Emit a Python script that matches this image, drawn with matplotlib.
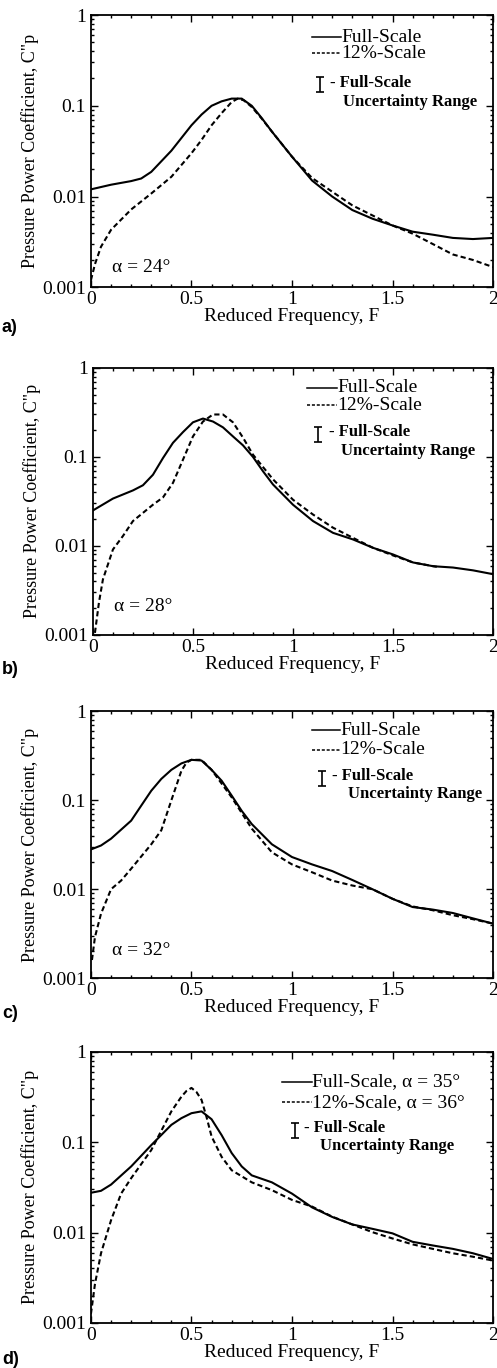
import matplotlib.pyplot as plt
from matplotlib.ticker import LogLocator, MultipleLocator, FixedLocator, FixedFormatter

plt.rcParams['font.family'] = ['Liberation Serif', 'DejaVu Serif']

# panel a, alpha = 24
fa_full = [0, 0.1, 0.2, 0.25, 0.3, 0.4, 0.5, 0.55, 0.6, 0.65, 0.7, 0.75, 0.8, 0.85, 0.9, 1.0, 1.1, 1.2, 1.3, 1.4,
           1.5, 1.6, 1.7, 1.8, 1.9, 2.0]
ca_full = [0.012, 0.0135, 0.0148, 0.0158, 0.0187, 0.032, 0.061, 0.08, 0.1, 0.112, 0.12, 0.12, 0.1, 0.073, 0.052,
           0.0275, 0.015, 0.010, 0.0071, 0.0057, 0.0048, 0.0041, 0.0038, 0.0035, 0.0034, 0.0035]
fa_12 = [0.0, 0.02, 0.05, 0.1, 0.2, 0.3, 0.4, 0.5, 0.55, 0.6, 0.65, 0.7, 0.73, 0.76, 0.8, 0.85, 0.9, 1.0, 1.1, 1.2,
         1.3, 1.4, 1.5, 1.6, 1.7, 1.8, 1.9, 2.0]
ca_12 = [0.0012, 0.0018, 0.0028, 0.0043, 0.0072, 0.0108, 0.0165, 0.03, 0.042, 0.061, 0.083, 0.11, 0.12, 0.115,
         0.097, 0.072, 0.052, 0.0275, 0.016, 0.0113, 0.008, 0.0062, 0.0048, 0.0039, 0.003, 0.0023, 0.002, 0.00167]

# panel b, alpha = 28
fb_full = [0, 0.1, 0.2, 0.25, 0.3, 0.35, 0.4, 0.45, 0.5, 0.55, 0.6, 0.65, 0.7, 0.75, 0.8, 0.85, 0.9, 1.0, 1.1,
           1.2, 1.3, 1.4, 1.5, 1.6, 1.7, 1.8, 1.9, 2.0]
cb_full = [0.025, 0.034, 0.042, 0.048, 0.063, 0.097, 0.144, 0.19, 0.245, 0.27, 0.25, 0.215, 0.17, 0.135, 0.1, 0.069,
           0.049, 0.029, 0.019, 0.014, 0.0118, 0.0095, 0.008, 0.0065, 0.0059, 0.0057, 0.0053, 0.0048]
fb_12 = [0.01, 0.03, 0.05, 0.1, 0.15, 0.2, 0.3, 0.35, 0.4, 0.45, 0.5, 0.55, 0.6, 0.65, 0.7, 0.75, 0.8, 0.9, 1.0,
         1.1, 1.2, 1.3, 1.4, 1.5, 1.6, 1.72]
cb_12 = [0.00105, 0.0023, 0.0042, 0.0091, 0.0129, 0.019, 0.029, 0.035, 0.051, 0.093, 0.17, 0.25, 0.30, 0.30, 0.245,
         0.165, 0.106, 0.056, 0.033, 0.0225, 0.016, 0.0123, 0.0095, 0.0078, 0.0065, 0.0058]

# panel c, alpha = 32
fc_full = [0, 0.05, 0.1, 0.2, 0.25, 0.3, 0.35, 0.4, 0.45, 0.5, 0.55, 0.6, 0.65, 0.7, 0.75, 0.8, 0.9, 1.0, 1.1, 1.2,
           1.3, 1.4, 1.5, 1.6, 1.7, 1.8, 1.9, 2.0]
cc_full = [0.028, 0.031, 0.037, 0.059, 0.087, 0.128, 0.174, 0.22, 0.26, 0.285, 0.28, 0.22, 0.166, 0.113, 0.076,
           0.054, 0.032, 0.023, 0.019, 0.016, 0.0127, 0.010, 0.0078, 0.0063, 0.0059, 0.0054, 0.0047, 0.0041]
fc_12 = [0.005, 0.02, 0.05, 0.1, 0.15, 0.2, 0.3, 0.35, 0.4, 0.45, 0.475, 0.5, 0.55, 0.6, 0.7, 0.8, 0.9, 1.0, 1.1,
         1.2, 1.3, 1.4, 1.5, 1.6, 1.7, 1.8, 1.9, 2.0]
cc_12 = [0.0016, 0.0029, 0.0053, 0.010, 0.0125, 0.017, 0.032, 0.046, 0.10, 0.215, 0.265, 0.285, 0.285, 0.22, 0.108,
         0.048, 0.026, 0.019, 0.0155, 0.0125, 0.011, 0.010, 0.0078, 0.0064, 0.0058, 0.0051, 0.0046, 0.0041]

# panel d, alpha = 35 / 36
fd_full = [0, 0.05, 0.1, 0.2, 0.3, 0.4, 0.45, 0.5, 0.55, 0.6, 0.65, 0.7, 0.75, 0.8, 0.9, 1.0, 1.1, 1.2, 1.3, 1.4,
           1.5, 1.6, 1.7, 1.8, 1.9, 2.0]
cd_full = [0.0276, 0.029, 0.034, 0.054, 0.093, 0.156, 0.185, 0.21, 0.22, 0.18, 0.12, 0.076, 0.054, 0.043, 0.036,
           0.027, 0.019, 0.0149, 0.0123, 0.011, 0.0098, 0.0079, 0.0072, 0.0066, 0.0059, 0.0051]
fd_12 = [0.0, 0.02, 0.05, 0.1, 0.15, 0.2, 0.3, 0.4, 0.45, 0.475, 0.5, 0.525, 0.55, 0.575, 0.6, 0.65, 0.7, 0.8, 0.9,
         1.0, 1.1, 1.2, 1.3, 1.4, 1.5, 1.6, 1.7, 1.8, 1.9, 2.0]
cd_12 = [0.00126, 0.0027, 0.0059, 0.0137, 0.027, 0.040, 0.082, 0.22, 0.32, 0.37, 0.40, 0.36, 0.295, 0.19, 0.116,
         0.069, 0.049, 0.036, 0.0295, 0.023, 0.0194, 0.015, 0.0123, 0.0101, 0.0086, 0.0074, 0.0066, 0.0059, 0.0054,
         0.0049]

panels = [
    (fa_full, ca_full, fa_12, ca_12, "a)", "\u03b1 = 24\u00b0", "Full-Scale", "12%-Scale"),
    (fb_full, cb_full, fb_12, cb_12, "b)", "\u03b1 = 28\u00b0", "Full-Scale", "12%-Scale"),
    (fc_full, cc_full, fc_12, cc_12, "c)", "\u03b1 = 32\u00b0", "Full-Scale", "12%-Scale"),
    (fd_full, cd_full, fd_12, cd_12, "d)", None, "Full-Scale, \u03b1 = 35\u00b0", "12%-Scale, \u03b1 = 36\u00b0"),
]

# axes boxes [left, bottom, width, height] in figure fractions
boxes = [[0.183, 0.790, 0.809, 0.199],
         [0.187, 0.536, 0.805, 0.195],
         [0.183, 0.285, 0.809, 0.195],
         [0.183, 0.033, 0.809, 0.198]]
alpha_y = [0.074, 0.105, 0.105, None]
label_y = [327, 670, 1013, 1360]
# legend placement: line x0, x1, y solid, y dashed, I-bar x, I-bar y, text x, text y, range x, range y
leg = [(0.55, 0.622, 0.919, 0.86, 0.57, 0.745, 0.595, 0.75, 0.627, 0.68),
       (0.535, 0.61, 0.925, 0.86, 0.563, 0.75, 0.59, 0.76, 0.62, 0.69),
       (0.55, 0.62, 0.93, 0.857, 0.575, 0.75, 0.60, 0.757, 0.64, 0.69),
       (0.475, 0.55, 0.89, 0.815, 0.507, 0.71, 0.53, 0.72, 0.57, 0.653)]

fig = plt.figure(figsize=(4.97, 13.68), dpi=100)
for i, (xf, yf, x12, y12, tag, alab, lab1, lab2) in enumerate(panels):
    ax = fig.add_axes(boxes[i])
    ax.plot(xf, yf, color='black', lw=1.5)
    ax.plot(x12, y12, color='black', lw=1.5, ls=(0, (2.5, 1.5)))
    ax.set_yscale('log')
    ax.set_xlim(0, 2)
    ax.set_ylim(0.001, 1)
    ax.xaxis.set_major_locator(FixedLocator([0, 0.5, 1, 1.5, 2]))
    ax.xaxis.set_major_formatter(FixedFormatter(['0', '0.5', '1', '1.5', '2']))
    ax.xaxis.set_minor_locator(MultipleLocator(0.1))
    ax.yaxis.set_major_locator(FixedLocator([0.001, 0.01, 0.1, 1]))
    ax.yaxis.set_major_formatter(FixedFormatter(['0.001', '0.01', '0.1', '1']))
    ax.yaxis.set_minor_locator(LogLocator(base=10, subs=range(2, 10)))
    ax.tick_params(which='both', direction='in', top=True, right=True, labelsize=14, width=1.0)
    ax.tick_params(which='major', length=5)
    ax.tick_params(which='minor', length=2.5)
    ax.tick_params(axis='x', pad=3)
    for s in ax.spines.values():
        s.set_linewidth(1.3)
    ax.set_xlabel('Reduced Frequency, F', fontsize=14, labelpad=0)
    ax.set_ylabel('Pressure Power Coefficient, C"p', fontsize=13, labelpad=2)
    if alab:
        ax.text(0.052, alpha_y[i], alab, transform=ax.transAxes, fontsize=14, va='center')
    lx0, lx1, ys, yd, ibx, iby, tx, ty, rx, ry = leg[i]
    ax.plot([lx0, lx1], [ys, ys], color='black', lw=1.1, transform=ax.transAxes)
    ax.plot([lx0, lx1], [yd, yd], color='black', lw=1.1, ls=(0, (2, 1.2)), transform=ax.transAxes)
    ax.text(lx1, ys, lab1, transform=ax.transAxes, fontsize=14, va='center')
    ax.text(lx1, yd, lab2, transform=ax.transAxes, fontsize=14, va='center')
    ax.errorbar([ibx], [iby], yerr=[[0.028]], color='black', lw=1.2, capsize=3, capthick=1.2,
                transform=ax.transAxes)
    ax.text(tx, ty, '- Full-Scale', transform=ax.transAxes, fontsize=12, fontweight='bold', va='center')
    ax.text(rx, ry, 'Uncertainty Range', transform=ax.transAxes, fontsize=12, fontweight='bold', va='center')
    fig.text(2 / 497, 1 - label_y[i] / 1368, tag, fontsize=13, fontweight='bold', va='center',
             family=['Liberation Sans', 'DejaVu Sans'])

fig.savefig('out.png', dpi=100)
